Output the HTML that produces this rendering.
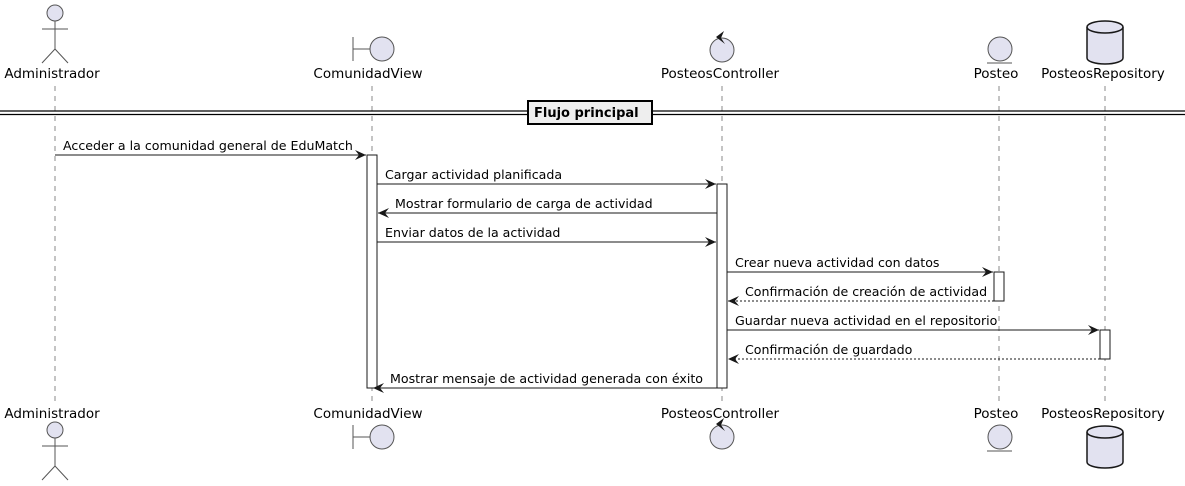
<!DOCTYPE html>
<html><head><meta charset="utf-8"><style>
html,body{margin:0;padding:0;background:#fff;}
svg{display:block;}
text{font-family:"DejaVu Sans","Liberation Sans",sans-serif;font-size:13.5px;fill:#000;}
.m{font-size:12.6px;}
</style></head><body>
<svg width="1185" height="486" viewBox="0 0 1185 486" xmlns="http://www.w3.org/2000/svg">
<defs>
<marker id="ah" markerWidth="12" markerHeight="10" refX="11" refY="5" orient="auto" markerUnits="userSpaceOnUse">
<path d="M0,0 L11,5 L0,10 L4,5 Z" fill="#181818"/>
</marker>
</defs>
<g stroke="#888" stroke-width="1" stroke-dasharray="5,5">
<line x1="55" y1="86" x2="55" y2="402"/>
<line x1="372" y1="86" x2="372" y2="402"/>
<line x1="722" y1="86" x2="722" y2="402"/>
<line x1="999" y1="86" x2="999" y2="402"/>
<line x1="1105" y1="86" x2="1105" y2="402"/>
</g>
<line x1="0" y1="111" x2="1185" y2="111" stroke="#000" stroke-width="1.3"/>
<line x1="0" y1="114.5" x2="1185" y2="114.5" stroke="#000" stroke-width="1.3"/>
<rect x="528" y="101" width="124" height="23" fill="#EEEEEE" stroke="#000" stroke-width="2"/>
<text x="534" y="117" style="font-weight:bold;font-size:13px">Flujo principal</text>
<g fill="#fff" stroke="#181818" stroke-width="1">
<rect x="367" y="155" width="10" height="233"/>
<rect x="717" y="184" width="10" height="204"/>
<rect x="994" y="272" width="10" height="29"/>
<rect x="1100" y="330" width="10" height="29"/>
</g>
<g stroke="#181818" stroke-width="1" fill="none">
<line x1="55" y1="155" x2="366" y2="155" marker-end="url(#ah)"/>
<line x1="377" y1="184" x2="716" y2="184" marker-end="url(#ah)"/>
<line x1="717" y1="213" x2="378" y2="213" marker-end="url(#ah)"/>
<line x1="377" y1="242" x2="716" y2="242" marker-end="url(#ah)"/>
<line x1="727" y1="272" x2="993" y2="272" marker-end="url(#ah)"/>
<line x1="994" y1="301" x2="728" y2="301" stroke-dasharray="2,2" marker-end="url(#ah)"/>
<line x1="727" y1="330" x2="1099" y2="330" marker-end="url(#ah)"/>
<line x1="1100" y1="359" x2="728" y2="359" stroke-dasharray="2,2" marker-end="url(#ah)"/>
<line x1="717" y1="388" x2="373" y2="388" marker-end="url(#ah)"/>
</g>
<text class="m" x="63" y="150">Acceder a la comunidad general de EduMatch</text>
<text class="m" x="385" y="179">Cargar actividad planificada</text>
<text class="m" x="395" y="208">Mostrar formulario de carga de actividad</text>
<text class="m" x="385" y="237">Enviar datos de la actividad</text>
<text class="m" x="735" y="267">Crear nueva actividad con datos</text>
<text class="m" x="745" y="296">Confirmación de creación de actividad</text>
<text class="m" x="735" y="325">Guardar nueva actividad en el repositorio</text>
<text class="m" x="745" y="354">Confirmación de guardado</text>
<text class="m" x="390" y="383">Mostrar mensaje de actividad generada con éxito</text>
<text x="52" y="78" text-anchor="middle">Administrador</text>
<text x="368" y="78" text-anchor="middle">ComunidadView</text>
<text x="720" y="78" text-anchor="middle">PosteosController</text>
<text x="996" y="78" text-anchor="middle">Posteo</text>
<text x="1103" y="78" text-anchor="middle">PosteosRepository</text>
<text x="52" y="418" text-anchor="middle">Administrador</text>
<text x="368" y="418" text-anchor="middle">ComunidadView</text>
<text x="720" y="418" text-anchor="middle">PosteosController</text>
<text x="996" y="418" text-anchor="middle">Posteo</text>
<text x="1103" y="418" text-anchor="middle">PosteosRepository</text>
<g stroke="#555" stroke-width="1" fill="#E2E2F0">
<circle cx="55" cy="13" r="8"/>
<line x1="55" y1="21" x2="55" y2="49" fill="none"/>
<line x1="42" y1="29" x2="68" y2="29"/>
<path d="M42,63 L55,49 L68,63" fill="none"/>
<line x1="353" y1="37" x2="353" y2="61"/>
<line x1="353" y1="49" x2="370" y2="49"/>
<circle cx="382" cy="49" r="12"/>
<circle cx="722" cy="50" r="12"/>
<circle cx="1000" cy="49" r="12"/>
<line x1="987" y1="63" x2="1012" y2="63"/>
</g>
<path d="M724,31 L716,37 L725,44 L721,38 Z" fill="#181818"/>
<g stroke="#181818" stroke-width="1.5" fill="#E2E2F0">
<path d="M1087,27 L1087,58 A18,6 0 0 0 1123,58 L1123,27"/>
<ellipse cx="1105" cy="27" rx="18" ry="6"/>
</g>
<g stroke="#555" stroke-width="1" fill="#E2E2F0">
<circle cx="55" cy="430" r="8"/>
<line x1="55" y1="438" x2="55" y2="466"/>
<line x1="42" y1="446" x2="68" y2="446"/>
<path d="M42,480 L55,466 L68,480" fill="none"/>
<line x1="353" y1="425" x2="353" y2="449"/>
<line x1="353" y1="437" x2="370" y2="437"/>
<circle cx="382" cy="437" r="12"/>
<circle cx="722" cy="437" r="12"/>
<circle cx="1000" cy="437" r="12"/>
<line x1="987" y1="451" x2="1012" y2="451"/>
</g>
<path d="M724,418 L716,424 L725,431 L721,425 Z" fill="#181818"/>
<g stroke="#181818" stroke-width="1.5" fill="#E2E2F0">
<path d="M1087,432 L1087,462 A18,6 0 0 0 1123,462 L1123,432"/>
<ellipse cx="1105" cy="432" rx="18" ry="6"/>
</g>
</svg>
</body></html>
